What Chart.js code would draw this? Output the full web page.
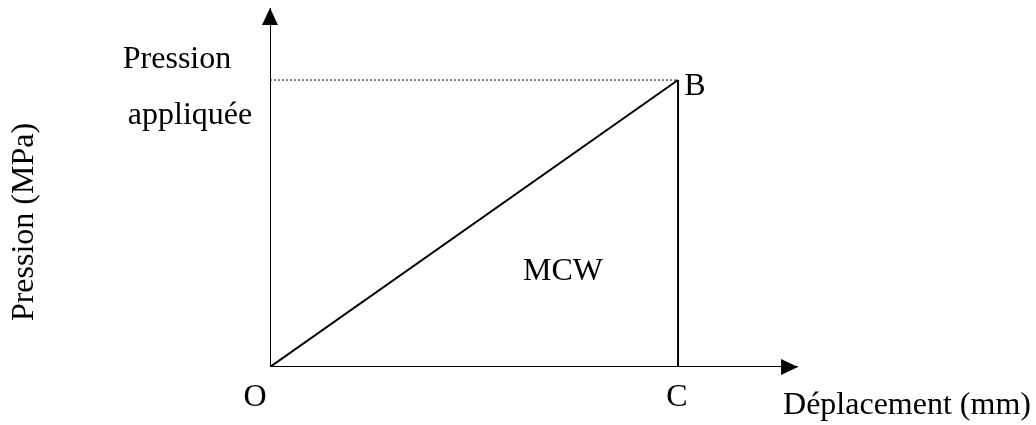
<!DOCTYPE html>
<html>
<head>
<meta charset="utf-8">
<script src="https://cdn.jsdelivr.net/npm/chart.js@4"></script>
<style>
  html, body { margin: 0; padding: 0; background: #fff; }
  #wrap { width: 1036px; height: 425px; }
</style>
</head>
<body>
<div id="wrap"><canvas id="chart"></canvas></div>
<script>
// points of the diagram (normalised units)
const pointNames = ["O", "B", "C"];
const deplacement = [0, 1, 1];
const pression = [0, 1, 0];
const axisMax = { x: 1.294, y: 1.251 };

const FONT = "'Liberation Serif', 'Times New Roman', serif";

const pt = (i) => ({ x: deplacement[i], y: pression[i] });

const labelsPlugin = {
  id: "labels",
  afterDatasetsDraw(chart) {
    const { ctx, scales } = chart;
    const x = scales.x, y = scales.y;
    const x0 = x.getPixelForValue(0), y0 = y.getPixelForValue(0);
    const xEnd = x.getPixelForValue(axisMax.x), yEnd = y.getPixelForValue(axisMax.y);

    // arrow heads
    ctx.save();
    ctx.fillStyle = "#000";
    ctx.beginPath();
    ctx.moveTo(x0, yEnd);
    ctx.lineTo(x0 - 8, yEnd + 17);
    ctx.lineTo(x0 + 8, yEnd + 17);
    ctx.closePath();
    ctx.fill();
    ctx.beginPath();
    ctx.moveTo(xEnd, y0);
    ctx.lineTo(xEnd - 17, y0 - 8);
    ctx.lineTo(xEnd - 17, y0 + 8);
    ctx.closePath();
    ctx.fill();

    ctx.font = "32px " + FONT;
    ctx.textAlign = "center";
    ctx.textBaseline = "middle";
    const bx = x.getPixelForValue(deplacement[1]), by = y.getPixelForValue(pression[1]);
    const cx = x.getPixelForValue(deplacement[2]);
    ctx.fillText(pointNames[1], bx + 17, by + 7);
    ctx.fillText(pointNames[0], x0 - 15, y0 + 31);
    ctx.fillText(pointNames[2], cx - 1, y0 + 31);
    ctx.fillText("MCW", 563, 272);
    ctx.fillText("Pression", 177, 60);
    ctx.fillText("appliquée", 190, 116);
    ctx.fillText("Déplacement (mm)", 907, 406);

    ctx.translate(25, 222);
    ctx.rotate(-Math.PI / 2);
    ctx.fillText("Pression (MPa)", 0, 0);
    ctx.restore();
  }
};

const solid = { borderColor: "#000", borderWidth: 2, pointRadius: 0, showLine: true, fill: false };

new Chart(document.getElementById("chart"), {
  type: "scatter",
  data: {
    datasets: [
      { ...solid, data: [{ x: 0, y: 0 }, { x: axisMax.x, y: 0 }] },
      { ...solid, data: [{ x: 0, y: 0 }, { x: 0, y: axisMax.y }] },
      { ...solid, data: [pt(0), pt(1)] },
      { ...solid, data: [pt(1), pt(2)] },
      { ...solid, borderWidth: 1, borderDash: [2, 2], data: [{ x: 0, y: pression[1] }, pt(1)] },
    ],
  },
  options: {
    responsive: true,
    maintainAspectRatio: false,
    animation: false,
    layout: { padding: { left: 270, right: 238, top: 8, bottom: 58 } },
    plugins: {
      legend: { display: false },
      tooltip: { enabled: false },
    },
    scales: {
      x: { type: "linear", min: 0, max: axisMax.x, display: false },
      y: { type: "linear", min: 0, max: axisMax.y, display: false },
    },
  },
  plugins: [labelsPlugin],
});
</script>
</body>
</html>
